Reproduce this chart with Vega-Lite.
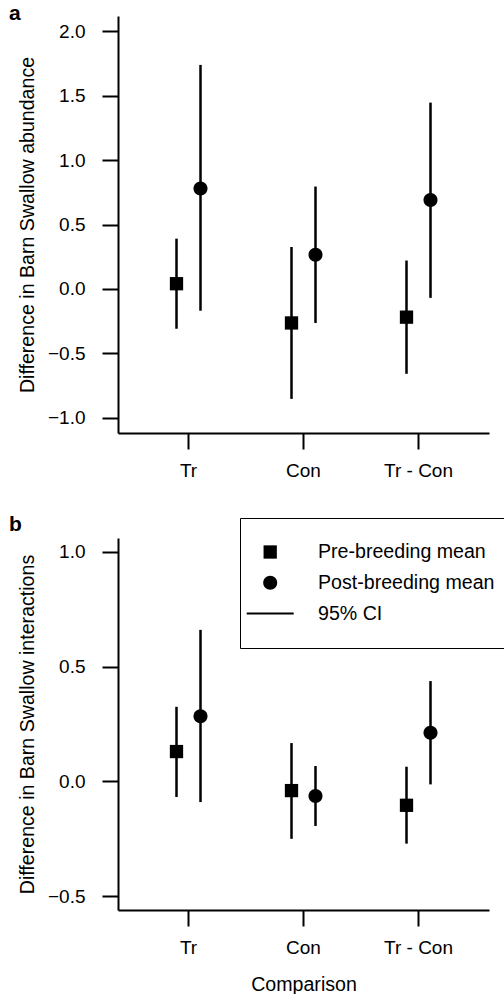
{
  "$schema": "https://vega.github.io/schema/vega-lite/v6.json",
  "background": "white",
  "padding": {"left": 9, "top": 3, "right": 0, "bottom": 0},
  "spacing": 33,
  "config": {
    "font": "Liberation Sans",
    "view": {"stroke": null},
    "axis": {
      "grid": false,
      "domainColor": "black",
      "domainWidth": 2,
      "tickColor": "black",
      "tickWidth": 2,
      "tickSize": 16,
      "labelFont": "Liberation Sans",
      "labelFontSize": 19,
      "labelColor": "black",
      "titleFont": "Liberation Sans",
      "titleFontSize": 19.6,
      "titleFontWeight": "normal",
      "titleColor": "black"
    },
    "title": {"font": "Liberation Sans", "fontSize": 21, "fontWeight": "bold", "color": "black"}
  },
  "datasets": {
    "ci": [
      {"panel": "a", "comparison": "Tr", "phase": "Pre-breeding mean", "mean": 0.04, "lower": -0.31, "upper": 0.39},
      {"panel": "a", "comparison": "Tr", "phase": "Post-breeding mean", "mean": 0.78, "lower": -0.17, "upper": 1.74},
      {"panel": "a", "comparison": "Con", "phase": "Pre-breeding mean", "mean": -0.265, "lower": -0.855, "upper": 0.325},
      {"panel": "a", "comparison": "Con", "phase": "Post-breeding mean", "mean": 0.265, "lower": -0.265, "upper": 0.795},
      {"panel": "a", "comparison": "Tr - Con", "phase": "Pre-breeding mean", "mean": -0.22, "lower": -0.66, "upper": 0.22},
      {"panel": "a", "comparison": "Tr - Con", "phase": "Post-breeding mean", "mean": 0.69, "lower": -0.07, "upper": 1.447},
      {"panel": "b", "comparison": "Tr", "phase": "Pre-breeding mean", "mean": 0.13, "lower": -0.068, "upper": 0.325},
      {"panel": "b", "comparison": "Tr", "phase": "Post-breeding mean", "mean": 0.284, "lower": -0.09, "upper": 0.66},
      {"panel": "b", "comparison": "Con", "phase": "Pre-breeding mean", "mean": -0.04, "lower": -0.25, "upper": 0.167},
      {"panel": "b", "comparison": "Con", "phase": "Post-breeding mean", "mean": -0.064, "lower": -0.194, "upper": 0.067},
      {"panel": "b", "comparison": "Tr - Con", "phase": "Pre-breeding mean", "mean": -0.104, "lower": -0.271, "upper": 0.064},
      {"panel": "b", "comparison": "Tr - Con", "phase": "Post-breeding mean", "mean": 0.212, "lower": -0.013, "upper": 0.437}
    ]
  },
  "resolve": {"scale": {"x": "independent", "y": "independent", "shape": "independent"}, "legend": {"shape": "independent"}},
  "vconcat": [
    {
      "width": 371,
      "height": 417,
      "title": {"text": "a", "anchor": "start", "frame": "group", "dx": -109, "offset": -25, "baseline": "alphabetic"},
      "data": {"name": "ci"},
      "transform": [{"filter": "datum.panel == 'a'"}],
      "encoding": {
        "x": {"field": "comparison", "type": "nominal", "sort": ["Tr", "Con", "Tr - Con"],
          "scale": {"paddingInner": 0, "paddingOuter": 0.113},
          "axis": {"title": null, "labelAngle": 0, "labelPadding": 12}},
        "xOffset": {"field": "phase", "type": "nominal", "sort": ["Pre-breeding mean", "Post-breeding mean"],
          "scale": {"type": "point", "padding": 0, "range": [45.5, 69.5]}}
      },
      "layer": [
        {
          "mark": {"type": "rule", "strokeWidth": 2.5, "color": "black"},
          "encoding": {
            "y": {"field": "lower", "type": "quantitative",
              "scale": {"domain": [-1.12, 2.12], "nice": false, "zero": false},
              "axis": {"title": "Difference in Barn Swallow abundance", "values": [-1, -0.5, 0, 0.5, 1, 1.5, 2], "format": ".1f", "labelPadding": 17, "titlePadding": 10, "labelFlush": false, "labelOverlap": false}},
            "y2": {"field": "upper"}
          }
        },
        {
          "mark": {"type": "point", "filled": true, "opacity": 1, "color": "black", "size": 400},
          "encoding": {
            "y": {"field": "mean", "type": "quantitative"},
            "shape": {"field": "phase", "type": "nominal",
              "scale": {"domain": ["Pre-breeding mean", "Post-breeding mean", "95% CI"],
                "range": ["M-0.665,-0.665H0.665V0.665H-0.665Z", "M0.7,0C0.7,0.3866 0.3866,0.7 0,0.7C-0.3866,0.7 -0.7,0.3866 -0.7,0C-0.7,-0.3866 -0.3866,-0.7 0,-0.7C0.3866,-0.7 0.7,-0.3866 0.7,0Z", "M-2.35,-0.1H2.35V0.1H-2.35Z"]},
              "legend": null}
          }
        }
      ]
    },
    {
      "width": 371,
      "height": 372,
      "title": {"text": "b", "anchor": "start", "frame": "group", "dx": -109, "offset": -34, "baseline": "alphabetic"},
      "data": {"name": "ci"},
      "transform": [{"filter": "datum.panel == 'b'"}],
      "encoding": {
        "x": {"field": "comparison", "type": "nominal", "sort": ["Tr", "Con", "Tr - Con"],
          "scale": {"paddingInner": 0, "paddingOuter": 0.113},
          "axis": {"title": "Comparison", "labelAngle": 0, "labelPadding": 12, "titlePadding": 18}},
        "xOffset": {"field": "phase", "type": "nominal", "sort": ["Pre-breeding mean", "Post-breeding mean"],
          "scale": {"type": "point", "padding": 0, "range": [45.5, 69.5]}}
      },
      "layer": [
        {
          "mark": {"type": "rule", "strokeWidth": 2.5, "color": "black"},
          "encoding": {
            "y": {"field": "lower", "type": "quantitative",
              "scale": {"domain": [-0.56, 1.06], "nice": false, "zero": false},
              "axis": {"title": "Difference in Barn Swallow interactions", "values": [-0.5, 0, 0.5, 1], "format": ".1f", "labelPadding": 17, "titlePadding": 10, "labelFlush": false, "labelOverlap": false}},
            "y2": {"field": "upper"}
          }
        },
        {
          "mark": {"type": "point", "filled": true, "opacity": 1, "color": "black", "size": 400},
          "encoding": {
            "y": {"field": "mean", "type": "quantitative"},
            "shape": {"field": "phase", "type": "nominal",
              "scale": {"domain": ["Pre-breeding mean", "Post-breeding mean", "95% CI"],
                "range": ["M-0.665,-0.665H0.665V0.665H-0.665Z", "M0.7,0C0.7,0.3866 0.3866,0.7 0,0.7C-0.3866,0.7 -0.7,0.3866 -0.7,0C-0.7,-0.3866 -0.3866,-0.7 0,-0.7C0.3866,-0.7 0.7,-0.3866 0.7,0Z", "M-2.35,-0.1H2.35V0.1H-2.35Z"]},
              "legend": {"title": null, "orient": "none", "legendX": 122, "legendY": -20,
                "strokeColor": "black", "padding": 24,
                "symbolSize": 400, "symbolOffset": -3.8, "symbolFillColor": "black", "symbolStrokeColor": "black", "symbolStrokeWidth": 0,
                "labelFont": "Liberation Sans", "labelFontSize": 19.6, "labelColor": "black", "labelOffset": 37.8, "labelLimit": 0, "rowPadding": 10.8,
                "encode": {
                  "legend": {"update": {"strokeWidth": {"value": 2}}},
                  "symbols": {"update": {"fill": {"value": "black"}, "opacity": {"value": 1}}}
                }}}
          }
        }
      ]
    }
  ]
}
